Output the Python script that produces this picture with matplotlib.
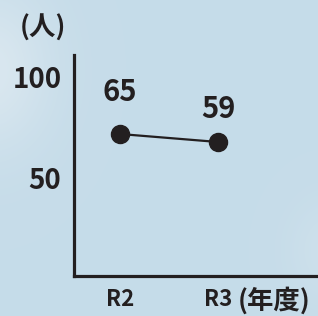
import matplotlib.pyplot as plt
import numpy as np

plt.rcParams['font.family'] = ['Noto Sans CJK JP', 'DejaVu Sans']

# データ
years = ['R2', 'R3']
people = [65, 59]
ytick_vals = [107.75, 32]      # 図の上での目盛り位置
ytick_labels = ['100', '50']

ink = '#231f20'

fig = plt.figure(figsize=(3.18, 3.16), dpi=100)

# 背景（空っぽいグラデーション）
bg = fig.add_axes([0, 0, 1, 1], zorder=-1)
h, w = 316, 318
yy, xx = np.mgrid[0:h, 0:w]
base = np.array([0.776, 0.863, 0.914])
blob = np.exp(-(((xx + 10) / 60.0) ** 2 + ((yy - 70) / 80.0) ** 2))
blob2 = 0.4 * np.exp(-(((xx - 330) / 40.0) ** 2 + ((yy - 250) / 50.0) ** 2))
k = np.clip(blob + blob2, 0, 1)[..., None] * 0.5
img = base * (1 - k) + np.array([0.93, 0.95, 0.965]) * k
bg.imshow(img, aspect='auto', extent=[0, 1, 0, 1])
bg.axis('off')

ax = fig.add_axes([74 / 318, 40 / 316, 244 / 318, 221 / 316])
ax.patch.set_alpha(0)

x = np.arange(len(years))
ax.plot(x, people, color=ink, lw=1.6, marker='o', ms=13, zorder=3)

offsets = [(0, 30), (0, 24)]
for xi, v, off in zip(x, people, offsets):
    ax.annotate(str(v), (xi, v), xytext=off, textcoords='offset points',
                ha='center', va='center', fontsize=21, fontweight='bold', color=ink)

ax.set_xlim(-0.469, 2.02)
ax.set_ylim(-41.5, 124.25)
ax.set_xticks(x)
ax.set_xticklabels(years, fontsize=16, fontweight='bold', color=ink)
ax.set_yticks(ytick_vals)
ax.set_yticklabels(ytick_labels, fontsize=20, fontweight='bold', color=ink)
ax.tick_params(axis='both', length=0)
ax.tick_params(axis='x', pad=9)
ax.tick_params(axis='y', pad=9)

for s in ['top', 'right']:
    ax.spines[s].set_visible(False)
for s in ['left', 'bottom']:
    ax.spines[s].set_linewidth(2.3)
    ax.spines[s].set_color(ink)

ax.annotate('(年度)', xy=(1, 0), xycoords=('data', 'axes fraction'),
            xytext=(14, -18), textcoords='offset points', ha='left', va='center',
            fontsize=19, fontweight='bold', color=ink)
fig.text(43 / 318, 1 - 28 / 316, '(人)', ha='center', va='center',
         fontsize=19, fontweight='bold', color=ink)

fig.savefig('out.png', dpi=100)
